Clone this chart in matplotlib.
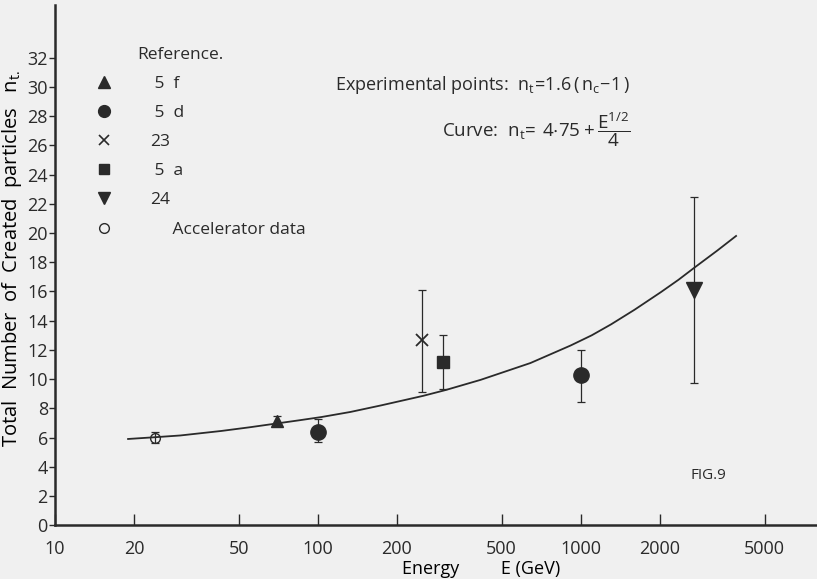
import numpy as np
import matplotlib.pyplot as plt
from matplotlib.lines import Line2D

# ------------------ Data ------------------
energy = [24, 70, 100, 250, 300, 1000, 2700]          # GeV
n_t = [6.0, 7.1, 6.4, 12.7, 11.2, 10.3, 16.1]
err_low = [5.6, 6.8, 5.7, 9.1, 9.3, 8.4, 9.7]
err_high = [6.4, 7.5, 7.3, 16.1, 13.0, 12.0, 22.5]
source = ["acc", "5f", "5d", "23", "5a", "5d", "24"]

# curve n_t = 4.75 + E^(1/2)/4
curve_E = [19, 24, 30, 43, 55, 69, 85, 103, 133, 174, 251, 306, 416, 643,
           914, 1100, 1303, 1600, 2013, 2350, 2710, 3300, 3890]
curve_n = [5.9, 6.02, 6.14, 6.45, 6.7, 6.95, 7.18, 7.4, 7.75, 8.2, 8.85,
           9.25, 9.95, 11.1, 12.3, 13.0, 13.75, 14.75, 15.95, 16.8, 17.65,
           18.8, 19.8]

ref_keys = ["5f", "5d", "23", "5a", "24", "acc"]
ref_labels = [" 5  f", " 5  d", "23", " 5  a", "24", "     Accelerator data"]

xticks = [10, 20, 50, 100, 200, 500, 1000, 2000, 5000]
yticks = list(range(0, 33, 2))

# ------------------ Style ------------------
ink = "#2a2a2a"
bg = "#f0f0f0"
FONT = "Open Sans"
plt.rcParams["font.family"] = [FONT, "DejaVu Sans"]
plt.rcParams["mathtext.fontset"] = "custom"
plt.rcParams["mathtext.rm"] = FONT
plt.rcParams["mathtext.it"] = FONT
plt.rcParams["mathtext.bf"] = FONT
plt.rcParams["text.color"] = ink

styles = {
    "5f": dict(marker="^", ms=9, mfc=ink, mec=ink),
    "5d": dict(marker="o", ms=11, mfc=ink, mec=ink),
    "23": dict(marker="x", ms=9, mfc=ink, mec=ink, mew=1.3),
    "5a": dict(marker="s", ms=8, mfc=ink, mec=ink),
    "24": dict(marker="v", ms=12, mfc=ink, mec=ink),
    "acc": dict(marker="o", ms=7, mfc="none", mec=ink, mew=1.0),
}
legend_styles = {
    "5f": dict(marker="^", ms=8),
    "5d": dict(marker="o", ms=8.5),
    "23": dict(marker="x", ms=7, mew=1.2),
    "5a": dict(marker="s", ms=7),
    "24": dict(marker="v", ms=8),
    "acc": dict(marker="o", ms=7, mfc="none", mew=1.0),
}

# ------------------ Plot ------------------
fig = plt.figure(figsize=(8.17, 5.79), dpi=100, facecolor=bg)
ax = fig.add_axes([0.067, 0.093, 0.933, 0.898], facecolor=bg)

ax.plot(curve_E, curve_n, color=ink, lw=1.3)

for E, n, lo, hi, src in zip(energy, n_t, err_low, err_high, source):
    ax.errorbar([E], [n], yerr=[[n - lo], [hi - n]], fmt="none",
                ecolor=ink, elinewidth=0.9, capsize=3, capthick=0.9)
    ax.plot([E], [n], ls="none", zorder=3, **styles[src])

ax.set_xscale("log")
ax.set_xlim(10, 7900)
ax.set_ylim(0, 35.6)
ax.set_xticks(xticks)
ax.set_xticklabels([str(t) for t in xticks])
ax.xaxis.set_minor_locator(plt.NullLocator())
ax.set_yticks(yticks)
ax.tick_params(axis="x", direction="in", length=8, width=1, pad=11,
               labelsize=13, colors=ink)
ax.tick_params(axis="y", direction="out", length=4, width=1, pad=1,
               labelsize=13, colors=ink)

for s in ["top", "right"]:
    ax.spines[s].set_visible(False)
for s in ["left", "bottom"]:
    ax.spines[s].set_linewidth(1.8)
    ax.spines[s].set_color(ink)

ax.set_ylabel(r"Total  Number  of  Created  particles   $\mathregular{n_{t.}}$",
              fontsize=14.5)
ax.yaxis.set_label_coords(-0.04, 0.513)
ax.set_xlabel("Energy         E (GeV)", fontsize=13, labelpad=1, x=0.56)

# reference key
handles = [Line2D([], [], ls="none", color=ink, **legend_styles[k]) for k in ref_keys]
leg = ax.legend(handles, ref_labels, loc="upper left", bbox_to_anchor=(0.033, 0.878),
                frameon=False, fontsize=12.5, handletextpad=1.65, labelspacing=0.75,
                borderaxespad=0)
ax.text(0.108, 0.905, "Reference.", transform=ax.transAxes, fontsize=12.5,
        va="center", ha="left")

ax.text(0.755, 0.846, r"Experimental points:  $\mathregular{n_t\!=\!1.6\,(\,n_c\!-\!1\,)}$",
        transform=ax.transAxes, fontsize=13, ha="right", va="center")
ax.text(0.755, 0.76, r"Curve:  $\mathregular{n_t\!=\,4{\cdot}75+\dfrac{E^{1/2}}{4}}$",
        transform=ax.transAxes, fontsize=13.5, ha="right", va="center")
ax.text(0.857, 0.096, "FIG.9", transform=ax.transAxes, fontsize=11,
        ha="center", va="center")

plt.savefig("out.png", dpi=100, facecolor=bg)
